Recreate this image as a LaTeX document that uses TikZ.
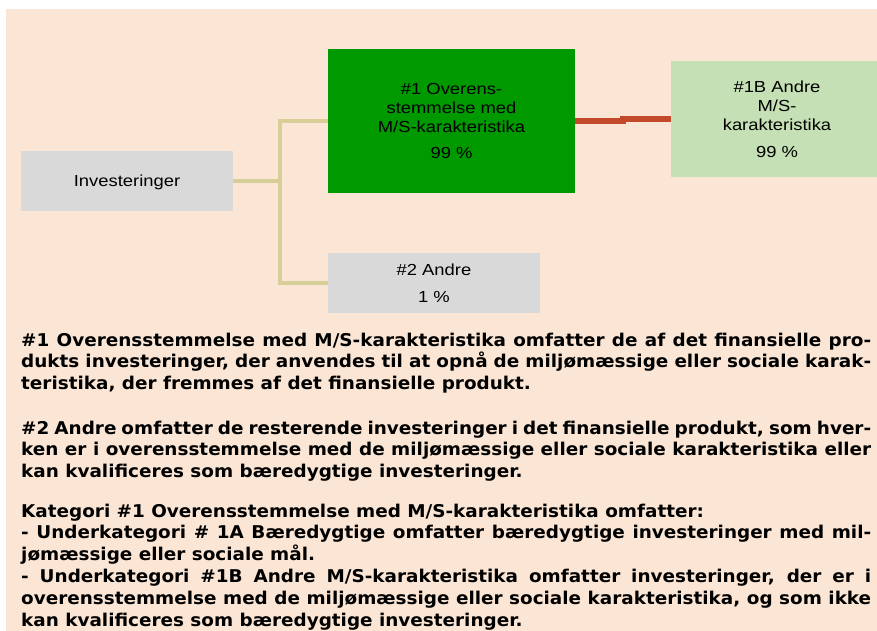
\documentclass[tikz,border=0pt]{standalone}
\usepackage{fontspec}
\newfontfamily\boxfont{Liberation Sans}[FakeStretch=1.15]
\newfontfamily\txtfont{DejaVu Sans}[FakeStretch=1.045]
\usetikzlibrary{calc}
\definecolor{peach}{HTML}{FBE6D5}
\definecolor{boxgrey}{HTML}{D9D9D9}
\definecolor{darkgreen}{HTML}{009900}
\definecolor{lightgreen}{HTML}{C5E0B4}
\definecolor{tanline}{HTML}{D8CE98}
\definecolor{redline}{HTML}{C4492A}
\tikzset{
  catbox/.style={rectangle, inner sep=0pt, align=center, text=black,
    font=\boxfont\fontsize{16}{19.3}\selectfont},
  tanconn/.style={draw=tanline, line width=4.5pt},
  redconn/.style={draw=redline, line width=5.5pt},
  para/.style={anchor=base west, inner sep=0pt, text=black}
}
\newcommand{\jline}[1]{\makebox[\linewidth][s]{#1}}
\newcommand{\txtsize}{\txtfont\bfseries\fontsize{17.6}{21.8}\selectfont}
\begin{document}
\begin{tikzpicture}[x=1pt,y=-1pt]
\clip (0,0) rectangle (877,630);
\fill[white] (0,0) rectangle (877,630);
\fill[peach] (6,9) rectangle (890,640);

\node[catbox, fill=boxgrey, minimum width=212pt, minimum height=60pt, text depth=0pt] (inv) at (127,181) {Investeringer};
\node[catbox, fill=darkgreen, minimum width=247pt, minimum height=144pt] (g1) at (451.5,121)
  {\#1 Overens-\\stemmelse med\\M/S-karakteristika\\[7pt]99 \%};
\node[catbox, fill=lightgreen, minimum width=212pt, minimum height=116pt] (b1) at (777,119)
  {\#1B Andre\\M/S-\\karakteristika\\[7pt]99 \%};
\node[catbox, fill=boxgrey, minimum width=212pt, minimum height=60pt] (a2) at (434,283)
  {\#2 Andre\\[8pt]1 \%};

\coordinate (j) at (280,181);
\draw[tanconn] (inv.east) -- (j) |- (g1.west);
\draw[tanconn] (j) |- (a2.west);
\draw[redconn] (g1.east) -| ($(g1.east)!0.5!(b1.west)$) |- (b1.west);

\node[para] (p1) at (21,346) {\parbox[t]{850pt}{\txtsize
\jline{\#1 Overensstemmelse med M/S-karakteristika omfatter de af det finansielle pro-}\\
\jline{dukts investeringer, der anvendes til at opnå de miljømæssige eller sociale karak-}\\
teristika, der fremmes af det finansielle produkt.}};

\node[para] (p2) at (21,434) {\parbox[t]{850pt}{\txtsize
\jline{\#2 Andre omfatter de resterende investeringer i det finansielle produkt, som hver-}\\
\jline{ken er i overensstemmelse med de miljømæssige eller sociale karakteristika eller}\\
kan kvalificeres som bæredygtige investeringer.}};

\node[para] (p3) at (21,517) {\parbox[t]{850pt}{\txtsize
Kategori \#1 Overensstemmelse med M/S-karakteristika omfatter:\\
\jline{- Underkategori \# 1A Bæredygtige omfatter bæredygtige investeringer med mil-}\\
jømæssige eller sociale mål.\\
\jline{- Underkategori \#1B Andre M/S-karakteristika omfatter investeringer, der er i}\\
\jline{overensstemmelse med de miljømæssige eller sociale karakteristika, og som ikke}\\
kan kvalificeres som bæredygtige investeringer.}};
\end{tikzpicture}
\end{document}
